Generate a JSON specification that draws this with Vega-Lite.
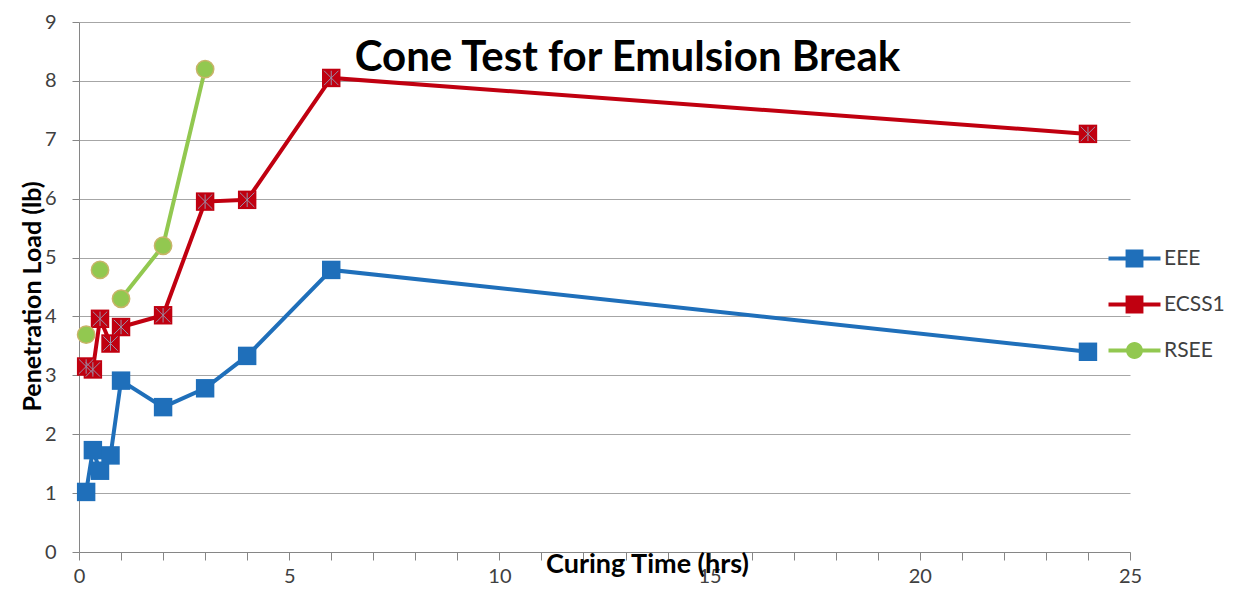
{
  "$schema": "https://vega.github.io/schema/vega-lite/v6.json",
  "width": 1051,
  "height": 530,
  "autosize": {"type": "none"},
  "padding": {"left": 79, "top": 22, "right": 117, "bottom": 46},
  "background": "white",
  "config": {"font": "Lato", "view": {"stroke": null}},
  "title": {
    "text": "Cone Test for Emulsion Break",
    "fontSize": 42,
    "fontWeight": "bold",
    "font": "Lato",
    "color": "#000000",
    "anchor": "middle",
    "baseline": "alphabetic",
    "dx": 23,
    "dy": 105
  },
  "data": {
    "values": [
      {"series": "EEE", "time": 0.17, "load": 1.02},
      {"series": "EEE", "time": 0.33, "load": 1.73},
      {"series": "EEE", "time": 0.5, "load": 1.38},
      {"series": "EEE", "time": 0.75, "load": 1.64},
      {"series": "EEE", "time": 1, "load": 2.91},
      {"series": "EEE", "time": 2, "load": 2.46},
      {"series": "EEE", "time": 3, "load": 2.78},
      {"series": "EEE", "time": 4, "load": 3.33},
      {"series": "EEE", "time": 6, "load": 4.79},
      {"series": "EEE", "time": 24, "load": 3.4},
      {"series": "ECSS1", "time": 0.17, "load": 3.15},
      {"series": "ECSS1", "time": 0.33, "load": 3.1},
      {"series": "ECSS1", "time": 0.5, "load": 3.96},
      {"series": "ECSS1", "time": 0.75, "load": 3.54},
      {"series": "ECSS1", "time": 1, "load": 3.82},
      {"series": "ECSS1", "time": 2, "load": 4.02},
      {"series": "ECSS1", "time": 3, "load": 5.95},
      {"series": "ECSS1", "time": 4, "load": 5.98},
      {"series": "ECSS1", "time": 6, "load": 8.05},
      {"series": "ECSS1", "time": 24, "load": 7.1},
      {"series": "RSEE", "time": 0.17, "load": 3.69},
      {"series": "RSEE", "time": 0.33, "load": null},
      {"series": "RSEE", "time": 0.5, "load": 4.79},
      {"series": "RSEE", "time": 0.75, "load": null},
      {"series": "RSEE", "time": 1, "load": 4.3},
      {"series": "RSEE", "time": 2, "load": 5.2},
      {"series": "RSEE", "time": 3, "load": 8.2}
    ]
  },
  "encoding": {
    "x": {
      "field": "time",
      "type": "quantitative",
      "scale": {"domain": [0, 25], "nice": false},
      "axis": {
        "values": [0,1,2,3,4,5,6,7,8,9,10,11,12,13,14,15,16,17,18,19,20,21,22,23,24,25],
        "labelExpr": "datum.value % 5 === 0 ? datum.label : ''",
        "grid": false,
        "tickSize": 8,
        "tickColor": "#868686",
        "domainColor": "#868686",
        "labelFontSize": 20,
        "labelColor": "#404040",
        "labelPadding": 6,
        "labelFlush": false,
        "title": "Curing Time (hrs)",
        "titleFontSize": 27,
        "titleFontWeight": "bold",
        "titleColor": "#000000",
        "titleX": 568,
        "titleY": 12,
        "titleAlign": "center",
        "titleBaseline": "middle"
      }
    },
    "y": {
      "field": "load",
      "type": "quantitative",
      "scale": {"domain": [0, 9], "nice": false},
      "axis": {
        "values": [0,1,2,3,4,5,6,7,8,9],
        "grid": true,
        "gridColor": "#A6A6A6",
        "gridWidth": 1,
        "tickSize": 7,
        "tickColor": "#868686",
        "domainColor": "#868686",
        "labelFontSize": 20,
        "labelColor": "#404040",
        "labelPadding": 16,
        "title": "Penetration Load (lb)",
        "titleFontSize": 25,
        "titleFontWeight": "bold",
        "titleColor": "#000000",
        "titleAngle": -90,
        "titleX": -47,
        "titleY": 274,
        "titleAlign": "center",
        "titleBaseline": "middle"
      }
    },
    "color": {
      "field": "series",
      "type": "nominal",
      "scale": {"domain": ["EEE", "ECSS1", "RSEE"], "range": ["#1F6FBA", "#C00010", "#92C850"]},
      "legend": {
        "orient": "none",
        "legendX": 1039,
        "legendY": 220,
        "title": null,
        "padding": 0,
        "rowPadding": 19,
        "symbolSize": 1056,
        "symbolType": "M-1.6,-0.12H1.6V0.12H-1.6Z M-0.55,-0.55H0.55V0.55H-0.55Z",
        "symbolStrokeWidth": 0,
        "labelFontSize": 21,
        "labelColor": "#404040",
        "labelOffset": 13,
        "encode": {
          "symbols": {
            "update": {
              "shape": {"signal": "datum.value === 'RSEE' ? 'M-1.6,-0.12H1.6V0.12H-1.6Z M0.52,0A0.52,0.52 0 1,1 -0.52,0A0.52,0.52 0 1,1 0.52,0Z' : 'M-1.6,-0.12H1.6V0.12H-1.6Z M-0.55,-0.55H0.55V0.55H-0.55Z'"},
              "fill": {"scale": "color", "field": "value"},
              "fillOpacity": {"value": 1},
              "opacity": {"value": 1},
              "strokeWidth": {"value": 0}
            }
          }
        }
      }
    }
  },
  "layer": [
    {"mark": {"type": "line", "strokeWidth": 4}},
    {
      "transform": [{"filter": "datum.series !== 'RSEE'"}],
      "mark": {"type": "point", "shape": "square", "filled": true, "size": 340, "opacity": 1}
    },
    {
      "transform": [{"filter": "datum.series === 'ECSS1'"}],
      "mark": {"type": "point", "shape": "M-0.8,-0.8L0.8,0.8M-0.8,0.8L0.8,-0.8M0,-0.8L0,0.8", "filled": false, "size": 324, "stroke": "#9A8FA8", "strokeWidth": 1, "opacity": 1},
      "encoding": {"color": {"value": "#9A8FA8"}}
    },
    {
      "transform": [{"filter": "datum.series === 'RSEE' && datum.load != null"}],
      "mark": {"type": "point", "shape": "circle", "filled": true, "size": 300, "opacity": 1, "stroke": "#C8B468", "strokeWidth": 1.5}
    }
  ]
}
